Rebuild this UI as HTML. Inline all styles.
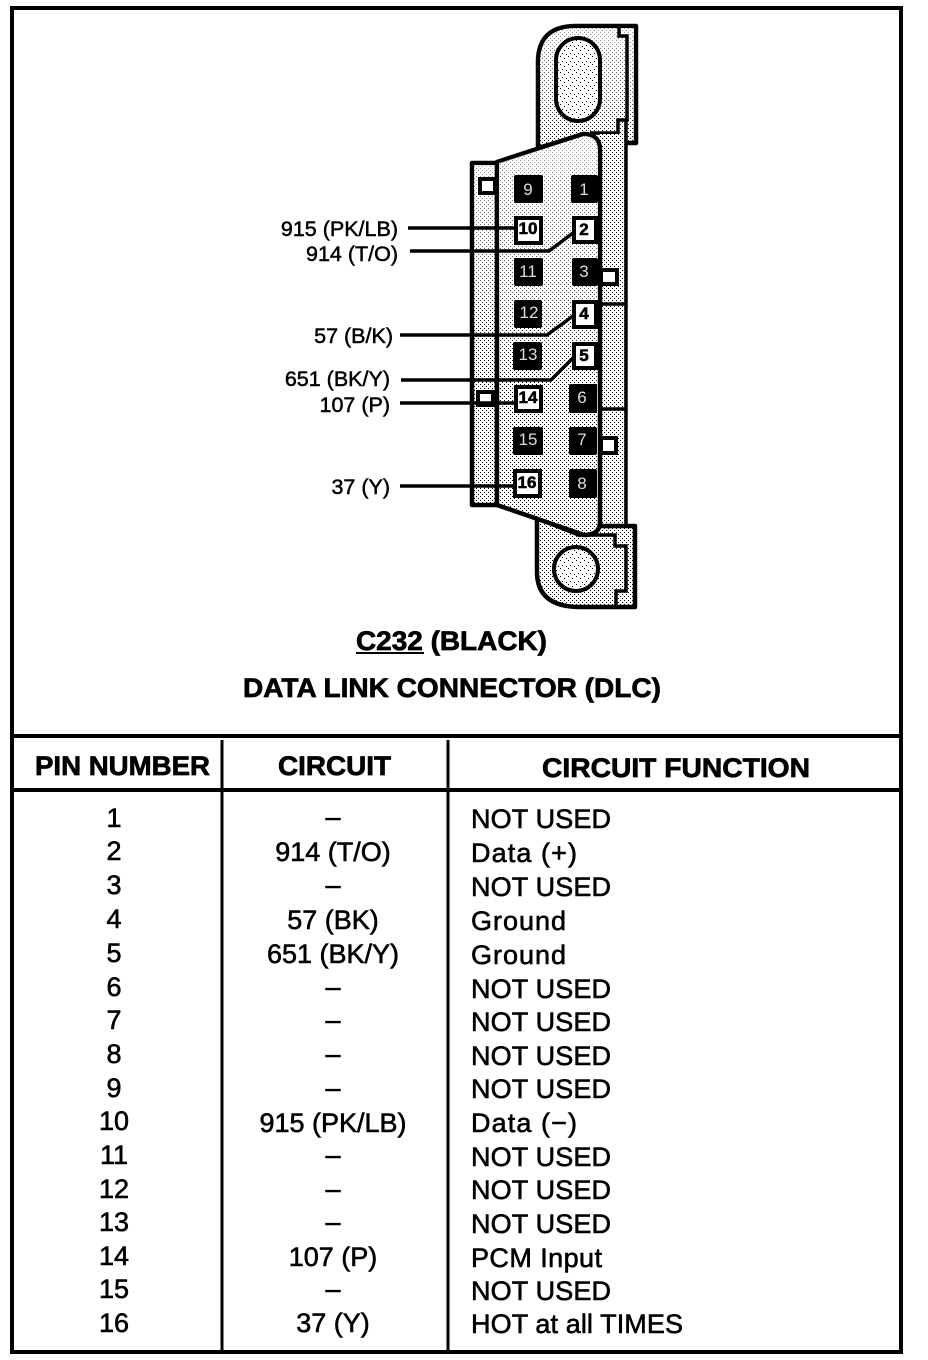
<!DOCTYPE html>
<html><head><meta charset="utf-8"><style>
html,body{margin:0;padding:0;background:#fff}
svg{display:block}
text{font-family:"Liberation Sans",sans-serif;fill:#000;stroke:#000}
.t{font-size:27px;stroke-width:.6}
.h{font-size:27px;font-weight:bold;stroke-width:.7}
.l{font-size:21.5px;stroke-width:.5;text-anchor:end}
.c{text-anchor:middle}
.pw{font-size:17px;fill:#ddd;stroke:none;text-anchor:middle}
.pb{font-size:17px;font-weight:bold;stroke-width:.6;text-anchor:middle}
.pin{fill:#000}
.o{fill:#fff;stroke:#000;stroke-width:4}
.w{fill:none;stroke:#000;stroke-width:3.5}
.s{stroke:#000;stroke-width:4.5;stroke-linejoin:round}
</style></head><body>
<svg width="928" height="1360" viewBox="0 0 928 1360" xmlns="http://www.w3.org/2000/svg">
<defs>
<pattern id="a" width="8" height="8" patternUnits="userSpaceOnUse">
<rect width="8" height="8" fill="#fff"/>
<rect x="0" y="0" width="1" height="1" fill="#000"/><rect x="4" y="2" width="1" height="1" fill="#000"/>
<rect x="2" y="5" width="1" height="1" fill="#000"/><rect x="6" y="6" width="1" height="1" fill="#000"/>
</pattern>
<pattern id="b" width="4" height="4" patternUnits="userSpaceOnUse">
<rect width="4" height="4" fill="#fff"/>
<rect x="0" y="0" width="1" height="1" fill="#000"/><rect x="2" y="2" width="1" height="1" fill="#000"/>
</pattern>
<linearGradient id="fade" x1="0" y1="0" x2="0" y2="1">
<stop offset="0" stop-color="#fff" stop-opacity=".6"/><stop offset=".6" stop-color="#fff" stop-opacity=".3"/><stop offset="1" stop-color="#fff" stop-opacity="0"/>
</linearGradient>
</defs>
<rect width="928" height="1360" fill="#fff"/>
<rect x="12" y="8" width="889" height="1344" fill="none" stroke="#000" stroke-width="4"/>

<!-- upper lug -->
<path class="s" fill="url(#b)" d="M538 148V62Q538 26 576 26H636V143H600L584 134L538 148Z"/>
<path d="M540 146V62Q540 28 576 28H634V141H600L584 132L540 146Z" fill="url(#fade)"/>
<path class="w" stroke-width="4" d="M619 27V36H627V120H618V133H590"/>
<rect x="556" y="38" width="44" height="83" rx="22" fill="url(#a)" stroke="#000" stroke-width="4"/>

<!-- rail right -->
<rect x="600" y="134" width="26" height="392" fill="url(#b)"/>
<path class="w" d="M626 120V527M600 304H626M600 409H626"/>

<!-- lower lug -->
<path class="s" fill="url(#b)" d="M537 518V572Q537 607 580 607H635V526H600L580 535Z"/>
<path class="w" stroke-width="4" d="M580 535H615V546H626V591H616V607"/>
<circle cx="576" cy="569" r="22" fill="url(#a)" stroke="#000" stroke-width="4"/>

<!-- left wall -->
<path class="s" fill="url(#b)" d="M472 163H497V505H472Z"/>
<rect x="474" y="165" width="21" height="180" fill="url(#fade)"/>
<!-- shield body -->
<path class="s" fill="url(#b)" d="M497 162L583 134Q600 134 600 150V522Q600 535 584 535L497 505Z"/>
<path d="M499 163L584 136Q598 136 598 150V400H499Z" fill="url(#fade)"/>

<!-- tabs -->
<rect class="o" x="480" y="179" width="15" height="14"/>
<rect class="o" x="601" y="270" width="16" height="14" />
<rect class="o" x="478" y="392" width="15" height="13"/>
<rect class="o" x="601" y="438" width="15" height="15"/>

<!-- black pins -->
<rect class="pin" x="514" y="175" width="29" height="28" rx="2"/><text class="pw" x="528" y="195">9</text>
<rect class="pin" x="571" y="175" width="27" height="28" rx="2"/><text class="pw" x="584" y="195">1</text>
<rect class="pin" x="514" y="258" width="29" height="28" rx="2"/><text class="pw" x="528" y="277">11</text>
<rect class="pin" x="572" y="258" width="26" height="28" rx="2"/><text class="pw" x="584" y="277">3</text>
<rect class="pin" x="514" y="300" width="28" height="28" rx="2"/><text class="pw" x="529" y="318">12</text>
<rect class="pin" x="513" y="342" width="29" height="28" rx="2"/><text class="pw" x="528" y="360">13</text>
<rect class="pin" x="569" y="384" width="28" height="29" rx="2"/><text class="pw" x="582" y="403">6</text>
<rect class="pin" x="513" y="427" width="30" height="28" rx="2"/><text class="pw" x="528" y="445">15</text>
<rect class="pin" x="569" y="427" width="28" height="28" rx="2"/><text class="pw" x="582" y="445">7</text>
<rect class="pin" x="569" y="469" width="28" height="29" rx="2"/><text class="pw" x="582" y="489">8</text>

<!-- wires -->
<path class="w" d="M408 228H516"/>
<path class="w" d="M410 251H549L573 233"/>
<path class="w" d="M400 335H547L573 316"/>
<path class="w" d="M401 380H551L573 358"/>
<path class="w" d="M400 403H516"/>
<path class="w" d="M400 486H516"/>

<!-- open pins -->
<rect class="o" x="516" y="218" width="25" height="25"/><text class="pb" x="528" y="234">10</text>
<rect class="o" x="574" y="218" width="22" height="24"/><text class="pb" x="584" y="235">2</text>
<rect class="o" x="574" y="302" width="22" height="25"/><text class="pb" x="584" y="319">4</text>
<rect class="o" x="574" y="344" width="22" height="24"/><text class="pb" x="584" y="361">5</text>
<rect class="o" x="516" y="387" width="25" height="24"/><text class="pb" x="528" y="403">14</text>
<rect class="o" x="515" y="471" width="25" height="25"/><text class="pb" x="527" y="488">16</text>

<!-- wire labels -->
<text class="l" x="398" y="236">915 (PK/LB)</text>
<text class="l" x="398" y="261">914 (T/O)</text>
<text class="l" x="393" y="343">57 (B/K)</text>
<text class="l" x="390" y="386">651 (BK/Y)</text>
<text class="l" x="390" y="412">107 (P)</text>
<text class="l" x="390" y="494">37 (Y)</text>

<!-- titles -->
<text class="h" x="356" y="650" textLength="191" lengthAdjust="spacingAndGlyphs">C232 (BLACK)</text>
<rect x="356" y="652" width="68" height="2"/>
<text class="h" x="243" y="697" textLength="418" lengthAdjust="spacingAndGlyphs">DATA LINK CONNECTOR (DLC)</text>

<!-- table lines -->
<rect x="12" y="734" width="888" height="4"/>
<rect x="12" y="788" width="888" height="4"/>
<rect x="220.500" y="740" width="3" height="612"/>
<rect x="446.500" y="740" width="3" height="612"/>

<text class="h" x="35" y="775" textLength="175" lengthAdjust="spacingAndGlyphs">PIN NUMBER</text>
<text class="h" x="278" y="775" textLength="113" lengthAdjust="spacingAndGlyphs">CIRCUIT</text>
<text class="h" x="542" y="777" textLength="268" lengthAdjust="spacingAndGlyphs">CIRCUIT FUNCTION</text>

<!-- pin numbers -->
<text class="t c" x="114" y="827">1</text>
<text class="t c" x="114" y="860">2</text>
<text class="t c" x="114" y="894">3</text>
<text class="t c" x="114" y="928">4</text>
<text class="t c" x="114" y="962">5</text>
<text class="t c" x="114" y="996">6</text>
<text class="t c" x="114" y="1029">7</text>
<text class="t c" x="114" y="1063">8</text>
<text class="t c" x="114" y="1097">9</text>
<text class="t c" x="114" y="1130">10</text>
<text class="t c" x="114" y="1164">11</text>
<text class="t c" x="114" y="1198">12</text>
<text class="t c" x="114" y="1231">13</text>
<text class="t c" x="114" y="1265">14</text>
<text class="t c" x="114" y="1298">15</text>
<text class="t c" x="114" y="1332">16</text>

<!-- circuits -->
<text class="t c" x="333" y="826">–</text>
<text class="t c" x="333" y="861">914 (T/O)</text>
<text class="t c" x="333" y="894">–</text>
<text class="t c" x="333" y="929">57 (BK)</text>
<text class="t c" x="333" y="963">651 (BK/Y)</text>
<text class="t c" x="333" y="996">–</text>
<text class="t c" x="333" y="1029">–</text>
<text class="t c" x="333" y="1063">–</text>
<text class="t c" x="333" y="1097">–</text>
<text class="t c" x="333" y="1132">915 (PK/LB)</text>
<text class="t c" x="333" y="1164">–</text>
<text class="t c" x="333" y="1198">–</text>
<text class="t c" x="333" y="1231">–</text>
<text class="t c" x="333" y="1266">107 (P)</text>
<text class="t c" x="333" y="1298">–</text>
<text class="t c" x="333" y="1332">37 (Y)</text>

<!-- functions -->
<text class="t" x="471" y="828" textLength="140">NOT USED</text>
<text class="t" x="471" y="862" textLength="106">Data (+)</text>
<text class="t" x="471" y="896" textLength="140">NOT USED</text>
<text class="t" x="471" y="930" textLength="95">Ground</text>
<text class="t" x="471" y="964" textLength="95">Ground</text>
<text class="t" x="471" y="998" textLength="140">NOT USED</text>
<text class="t" x="471" y="1031" textLength="140">NOT USED</text>
<text class="t" x="471" y="1065" textLength="140">NOT USED</text>
<text class="t" x="471" y="1098" textLength="140">NOT USED</text>
<text class="t" x="471" y="1132" textLength="106">Data (−)</text>
<text class="t" x="471" y="1166" textLength="140">NOT USED</text>
<text class="t" x="471" y="1199" textLength="140">NOT USED</text>
<text class="t" x="471" y="1233" textLength="140">NOT USED</text>
<text class="t" x="471" y="1267" textLength="131">PCM Input</text>
<text class="t" x="471" y="1300" textLength="140">NOT USED</text>
<text class="t" x="471" y="1333" textLength="212">HOT at all TIMES</text>
</svg>
</body></html>
